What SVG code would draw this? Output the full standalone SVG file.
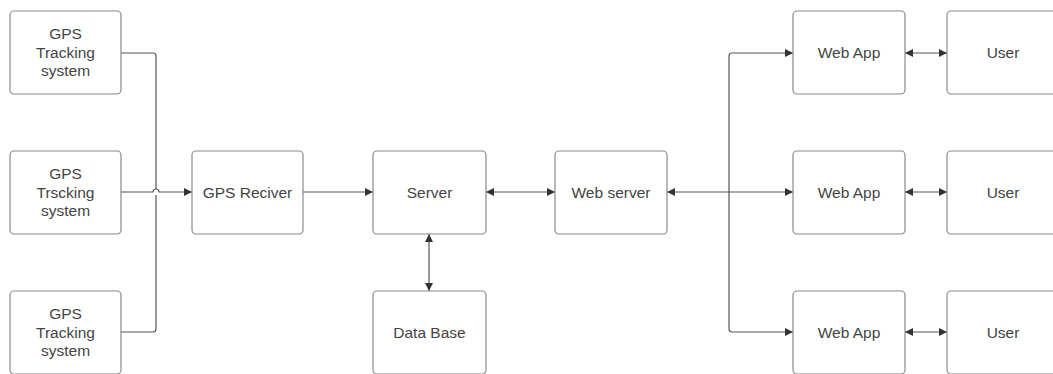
<svg xmlns="http://www.w3.org/2000/svg" width="1053" height="374" viewBox="0 0 1053 374">
<style>
.box{fill:#fff;stroke:#8a8a8a;stroke-width:1.2}
.t{font-family:"Liberation Sans",Arial,sans-serif;font-size:15.5px;fill:#444;text-anchor:middle}
.ln{fill:none;stroke:#555;stroke-width:1.2}
</style>
<defs>
<marker id="ah" viewBox="0 0 10 10" refX="10" refY="5" markerWidth="11" markerHeight="8" markerUnits="userSpaceOnUse" orient="auto-start-reverse">
<path d="M0,0 L10,5 L0,10 Z" fill="#333"/>
</marker>
</defs>
<rect width="1053" height="374" fill="#fff"/>
<g id="connectors">
<path class="ln" d="M121,53 H153 Q156,53 156,56 V189"/>
<path class="ln" d="M156,195 V329 Q156,332 153,332 H121"/>
<path class="ln" d="M121,192 H153 A3,3 0 0 1 159,192 H192" marker-end="url(#ah)"/>
<path class="ln" d="M303,192 H373" marker-end="url(#ah)"/>
<path class="ln" d="M486,192 H555" marker-start="url(#ah)" marker-end="url(#ah)"/>
<path class="ln" d="M429,234 V291" marker-start="url(#ah)" marker-end="url(#ah)"/>
<path class="ln" d="M667,192 H793" marker-start="url(#ah)" marker-end="url(#ah)"/>
<path class="ln" d="M793,53 H732 Q729,53 729,56 V329 Q729,332 732,332 H793" marker-start="url(#ah)" marker-end="url(#ah)"/>
<path class="ln" d="M905,53 H947" marker-start="url(#ah)" marker-end="url(#ah)"/>
<path class="ln" d="M905,192 H947" marker-start="url(#ah)" marker-end="url(#ah)"/>
<path class="ln" d="M905,332 H947" marker-start="url(#ah)" marker-end="url(#ah)"/>
</g>
<g id="gps1"><rect class="box" x="10" y="11" width="111" height="83" rx="4"/><text class="t" x="65.5" y="38.5">GPS</text><text class="t" x="65.5" y="57.5">Tracking</text><text class="t" x="65.5" y="76">system</text></g>
<g id="gps2"><rect class="box" x="10" y="151" width="111" height="83" rx="4"/><text class="t" x="65.5" y="178.5">GPS</text><text class="t" x="65.5" y="197.5">Trscking</text><text class="t" x="65.5" y="216">system</text></g>
<g id="gps3"><rect class="box" x="10" y="291" width="111" height="83" rx="4"/><text class="t" x="65.5" y="318.5">GPS</text><text class="t" x="65.5" y="337.5">Tracking</text><text class="t" x="65.5" y="356">system</text></g>
<g id="receiver"><rect class="box" x="192" y="151" width="111" height="83" rx="4"/><text class="t" x="247.5" y="197.5">GPS Reciver</text></g>
<g id="server"><rect class="box" x="373" y="151" width="113" height="83" rx="4"/><text class="t" x="429.5" y="197.5">Server</text></g>
<g id="database"><rect class="box" x="373" y="291" width="113" height="83" rx="4"/><text class="t" x="429.5" y="337.5">Data Base</text></g>
<g id="webserver"><rect class="box" x="555" y="151" width="112" height="83" rx="4"/><text class="t" x="611" y="197.5">Web server</text></g>
<g id="webapp1"><rect class="box" x="793" y="11" width="112" height="83" rx="4"/><text class="t" x="849" y="57.5">Web App</text></g>
<g id="webapp2"><rect class="box" x="793" y="151" width="112" height="83" rx="4"/><text class="t" x="849" y="197.5">Web App</text></g>
<g id="webapp3"><rect class="box" x="793" y="291" width="112" height="83" rx="4"/><text class="t" x="849" y="337.5">Web App</text></g>
<g id="user1"><rect class="box" x="947" y="11" width="112" height="83" rx="4"/><text class="t" x="1003" y="57.5">User</text></g>
<g id="user2"><rect class="box" x="947" y="151" width="112" height="83" rx="4"/><text class="t" x="1003" y="197.5">User</text></g>
<g id="user3"><rect class="box" x="947" y="291" width="112" height="83" rx="4"/><text class="t" x="1003" y="337.5">User</text></g>
</svg>
